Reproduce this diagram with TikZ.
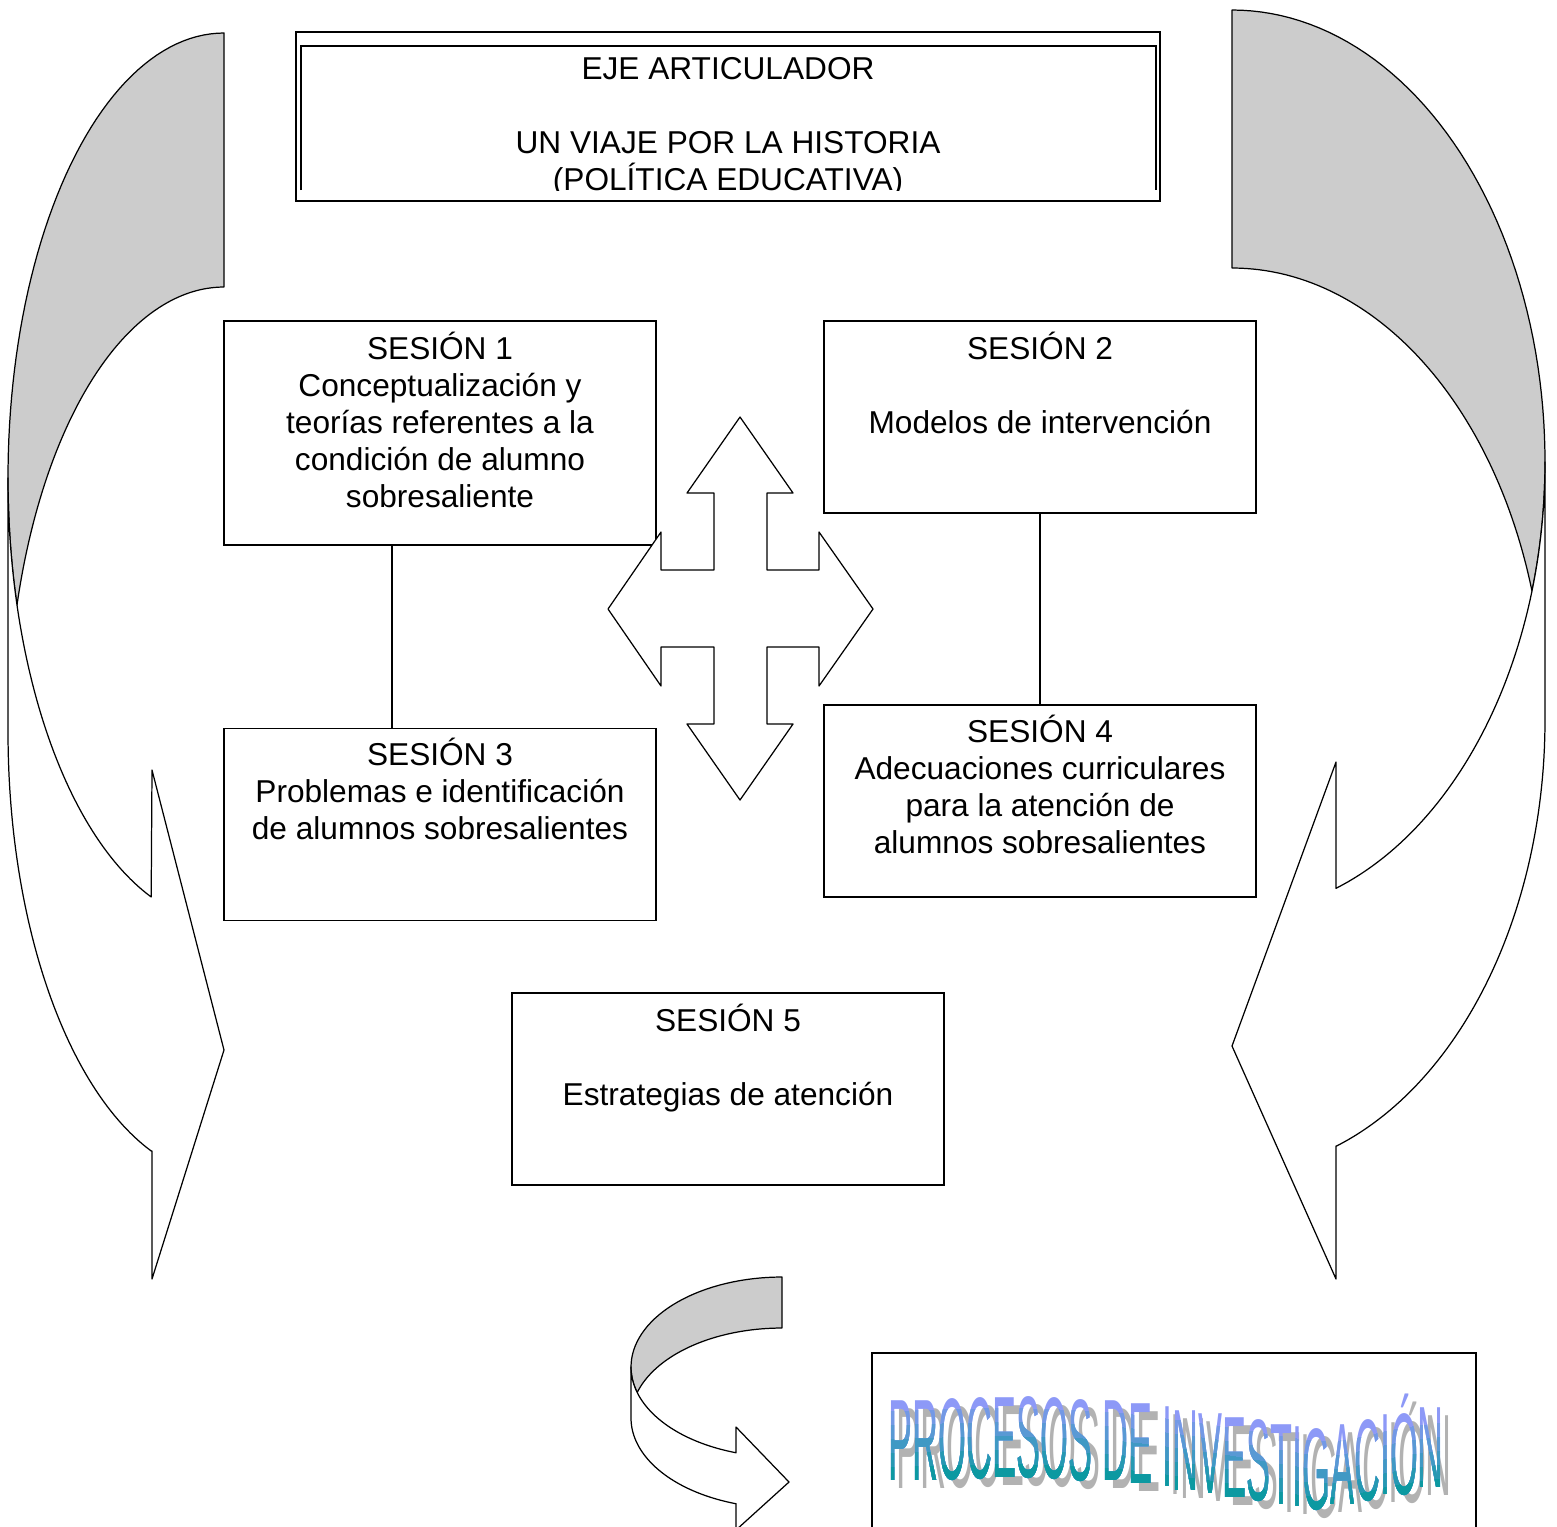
\documentclass[tikz,border=0pt]{standalone}
\usepackage{fontspec}
\setmainfont{Liberation Sans}
\usetikzlibrary{positioning}

\definecolor{sombra}{HTML}{CCCCCC}
\definecolor{waarriba}{HTML}{9999FF}
\definecolor{waabajo}{HTML}{009999}

\newcommand{\wl}[2]{\raisebox{#1pt}{#2}}
\newcommand{\procesostexto}{\scalebox{0.31}[1]{\fontsize{66}{66}\selectfont%
\wl{0}{P}\wl{0}{R}\wl{0.5}{O}\wl{1}{C}\wl{1.7}{E}\wl{1.7}{S}\wl{1}{O}\wl{0}{S} %
\wl{0}{D}\wl{-1.7}{E} %
\wl{-3.4}{I}\wl{-5.7}{N}\wl{-7.4}{V}\wl{-10}{E}\wl{-11.4}{S}\wl{-13.7}{T}\wl{-14.8}{I}%
\wl{-16.5}{G}\wl{-14.2}{A}\wl{-11.4}{C}\wl{-8}{I}\wl{-8}{Ó}\wl{-4}{N}}}

\begin{document}
\begin{tikzpicture}[x=0.02cm, y=-0.02cm, line width=0.7pt,
        caja/.style={draw, minimum width=8.64cm, inner sep=0pt},
        texto/.style={align=center, inner sep=0pt, font=\fontsize{18}{21}\selectfont},
        atras/.style={draw, fill=sombra, line join=round},
        frente/.style={draw, fill=white, line join=round}]
            \useasboundingbox (0,0) rectangle (1557,1526);

            \draw[atras] (224,287) -- (224,33) -- plot[domain=90:196.6, samples=60] ({224+216*cos(\x)}, {478-445*sin(\x)}) -- plot[domain=163.4:90, samples=60] ({224+216*cos(\x)}, {732-445*sin(\x)}) -- cycle;
            \draw[frente] plot[domain=180:250.3, samples=60] ({224+216*cos(\x)}, {478-445*sin(\x)}) -- (152,770) -- (224,1050) -- (152,1279) -- (152,1151) -- plot[domain=250.3:180, samples=60] ({224+216*cos(\x)}, {732-445*sin(\x)}) -- cycle;

            \draw[atras] (1232,268) -- (1232,10) -- plot[domain=90:-16.6, samples=60] ({1232+313*cos(\x)}, {462-452*sin(\x)}) -- plot[domain=16.6:90, samples=60] ({1232+313*cos(\x)}, {720-452*sin(\x)}) -- cycle;
            \draw[frente] plot[domain=0:-70.6, samples=60] ({1232+313*cos(\x)}, {462-452*sin(\x)}) -- (1336,762) -- (1232,1046) -- (1336,1279) -- (1336,1146) -- plot[domain=-70.6:0, samples=60] ({1232+313*cos(\x)}, {720-452*sin(\x)}) -- cycle;

            \draw[atras] (782,1328) -- (782,1277) -- plot[domain=90:196.5, samples=40] ({782+151*cos(\x)}, {1367-90*sin(\x)}) -- plot[domain=163.5:90, samples=40] ({782+151*cos(\x)}, {1418-90*sin(\x)}) -- cycle;
            \draw[frente] plot[domain=180:252.3, samples=40] ({782+151*cos(\x)}, {1367-90*sin(\x)}) -- (736,1427) -- (789,1482) -- (736,1530) -- (736,1504) -- plot[domain=252.3:180, samples=40] ({782+151*cos(\x)}, {1418-90*sin(\x)}) -- cycle;

            \node[caja, minimum width=17.28cm, minimum height=3.38cm] (eje) at (728,116.5) {};
            \draw[line width=1.6pt] (301,190) -- (301,46) -- (1156,46) -- (1156,190);
            \begin{scope}
                \clip (296,32) rectangle (1160,190);
                \node[texto, below=0.51cm of eje.north] (eje_texto) {EJE ARTICULADOR\\[21pt]UN VIAJE POR LA HISTORIA\\(POLÍTICA EDUCATIVA)};
            \end{scope}

            \node[caja, minimum height=4.48cm] (sesion1) at (440,433) {};
            \node[caja, minimum height=3.84cm] (sesion2) at (1040,417) {};
            \node[caja, minimum height=3.84cm] (sesion3) at (440,824.5) {};
            \node[caja, minimum height=3.84cm] (sesion4) at (1040,801) {};
            \node[caja, minimum height=3.84cm] (sesion5) at (728,1089) {};

            \node[texto, below=0.22cm of sesion1.north] (texto1) {SESIÓN 1\\Conceptualización y\\teorías referentes a la\\condición de alumno\\sobresaliente};
            \node[texto, below=0.22cm of sesion2.north] (texto2) {SESIÓN 2\\[21pt]Modelos de intervención};
            \node[texto, below=0.2cm of sesion3.north] (texto3) {SESIÓN 3\\Problemas e identificación\\de alumnos sobresalientes};
            \node[texto, below=0.2cm of sesion4.north] (texto4) {SESIÓN 4\\Adecuaciones curriculares\\para la atención de\\alumnos sobresalientes};
            \node[texto, below=0.22cm of sesion5.north] (texto5) {SESIÓN 5\\[21pt]Estrategias de atención};

            \draw ([xshift=-0.96cm]sesion1.south) -- ([xshift=-0.96cm]sesion3.north);
            \draw (sesion2.south) -- (sesion4.north);

            \draw[frente] (740,417) -- (793,493) -- (767,493) -- (767,570) -- (819,570) -- (819,532) -- (873,609) -- (819,686) -- (819,647) -- (767,647) -- (767,724) -- (793,724) -- (740,800) -- (687,724) -- (714,724) -- (714,647) -- (661,647) -- (661,686) -- (608,609) -- (661,532) -- (661,570) -- (714,570) -- (714,493) -- (687,493) -- cycle;

            \node[draw, minimum width=12.08cm, minimum height=5cm] (procesos) at (1174,1478) {};
            \node[anchor=base west, inner sep=0pt, text=black!30] (sombra_texto) at (896,1488) {\procesostexto};
            \foreach \off/\p in {-100/8, -28/25, -14/42, 0/58, 14/75, 28/92} {
                \begin{scope}
                    \clip[shift={(0,\off)}] (860,1620) -- plot[smooth] coordinates {(860,1440) (1000,1436) (1110,1440) (1215,1453) (1325,1469) (1400,1456) (1480,1445)} -- (1480,1620) -- cycle;
                    \node[anchor=base west, inner sep=0pt, text=waabajo!\p!waarriba] (investigacion) at (888,1480) {\procesostexto};
                \end{scope}
            }
        \end{tikzpicture}
\end{document}
